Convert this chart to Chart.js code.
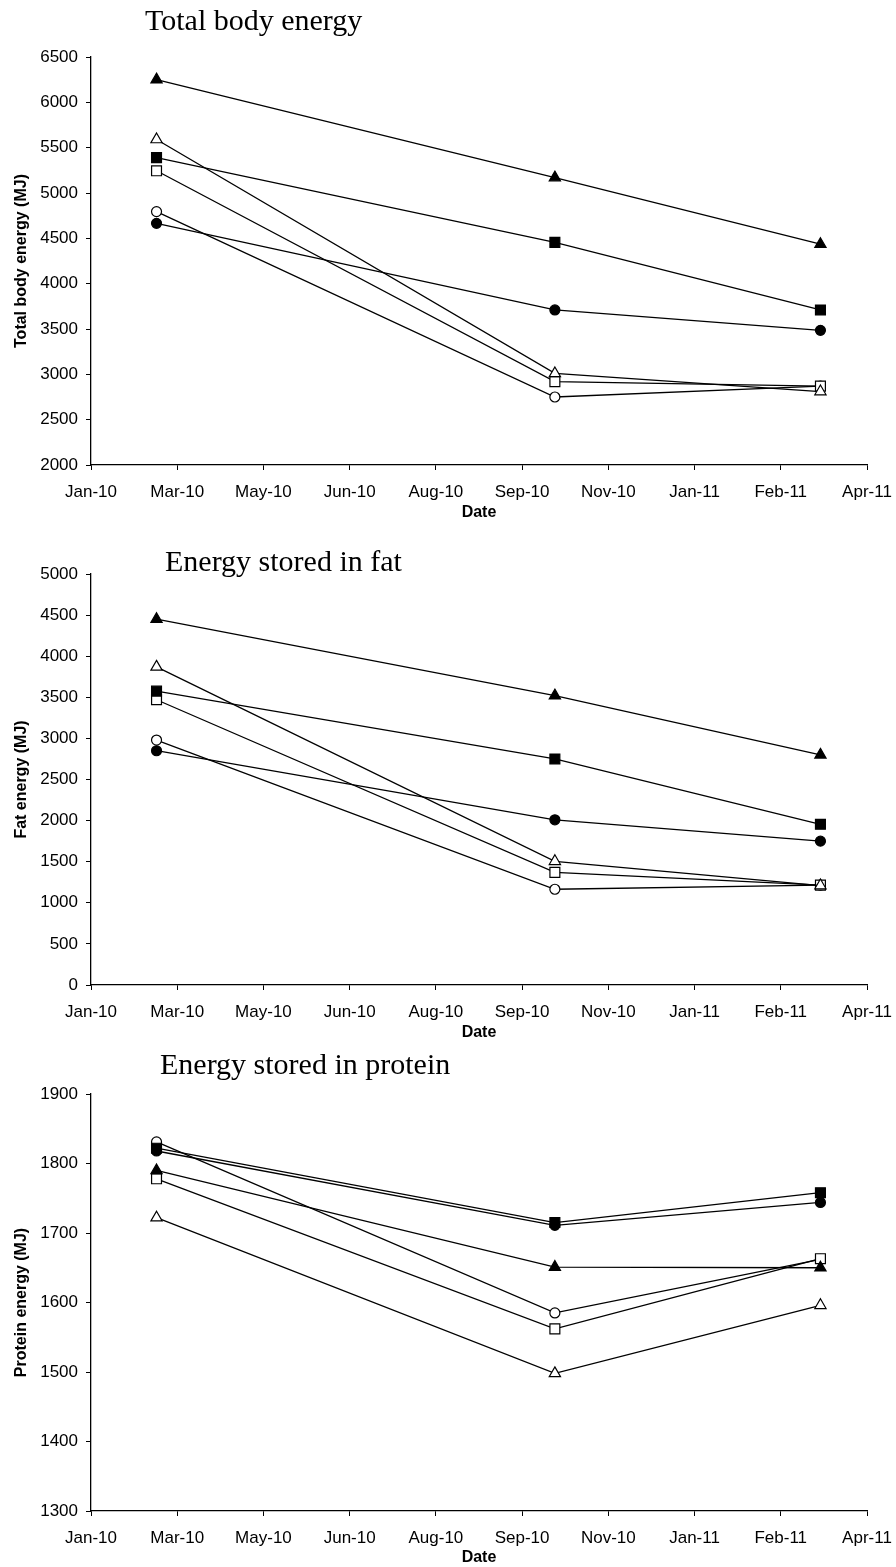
<!DOCTYPE html>
<html>
<head>
<meta charset="utf-8">
<title>Body energy</title>
<script src="https://cdn.jsdelivr.net/npm/chart.js@4/dist/chart.umd.min.js"></script>
<style>
  html, body { margin: 0; padding: 0; background: #ffffff; }
  #wrap { position: relative; width: 896px; height: 1567px; overflow: hidden; }
  canvas { position: absolute; left: 0; display: block; }
</style>
</head>
<body>
<div id="wrap">
  <canvas id="totalChart" width="896" height="525" style="top:0px"></canvas>
  <canvas id="fatChart" width="896" height="525" style="top:520px"></canvas>
  <canvas id="proteinChart" width="896" height="527" style="top:1040px"></canvas>
</div>
<script>
// Sampling dates and date-axis ticks (ticks every 50 days from 22 Jan 2010)
const sampleDates = ['2010-03-01', '2010-10-18', '2011-03-21'];
const dateTickLabels = ['Jan-10', 'Mar-10', 'May-10', 'Jun-10', 'Aug-10',
                        'Sep-10', 'Nov-10', 'Jan-11', 'Feb-11', 'Apr-11'];
const dateAxisStart = 40200;   // serial day of first tick
const dateAxisStep = 50;       // days between ticks

// Total body energy (MJ)
const totalTriFilled = [6250, 5170, 4435];
const totalTriOpen   = [5590, 3010, 2810];
const totalSqFilled  = [5390, 4455, 3710];
const totalSqOpen    = [5245, 2920, 2870];
const totalCirFilled = [4665, 3710, 3485];
const totalCirOpen   = [4795, 2750, 2870];

// Energy stored in fat (MJ)
const fatTriFilled = [4450, 3520, 2800];
const fatTriOpen   = [3870, 1505, 1210];
const fatSqFilled  = [3575, 2750, 1955];
const fatSqOpen    = [3470, 1370, 1215];
const fatCirFilled = [2850, 2010, 1750];
const fatCirOpen   = [2980, 1165, 1215];

// Energy stored in protein (MJ)
const protTriFilled = [1790, 1651, 1650];
const protTriOpen   = [1722, 1498, 1596];
const protSqFilled  = [1822, 1715, 1758];
const protSqOpen    = [1778, 1562, 1663];
const protCirFilled = [1818, 1711, 1744];
const protCirOpen   = [1831, 1585, 1662];

// Serial day number (days since 30 Dec 1899) for an ISO date
function serialDay(iso) {
  const [y, m, d] = iso.split('-').map(Number);
  return (Date.UTC(y, m - 1, d) - Date.UTC(1899, 11, 30)) / 86400000;
}
const sampleDays = sampleDates.map(serialDay);

Chart.defaults.font.family = '"Liberation Sans", Arial, sans-serif';
Chart.defaults.color = '#000000';

// Marker looks for the six series
const markerStyles = [
  { pointStyle: 'triangle', radius: 6.5, fill: '#000000' },
  { pointStyle: 'triangle', radius: 6.5, fill: '#ffffff' },
  { pointStyle: 'rect',     radius: 7,   fill: '#000000' },
  { pointStyle: 'rect',     radius: 7,   fill: '#ffffff' },
  { pointStyle: 'circle',   radius: 5,   fill: '#000000' },
  { pointStyle: 'circle',   radius: 5,   fill: '#ffffff' }
];

function buildDatasets(seriesList) {
  return seriesList.map((values, i) => {
    const m = markerStyles[i];
    return {
      data: values.map((v, k) => ({ x: sampleDays[k], y: v })),
      borderColor: '#000000',
      borderWidth: 1.3,
      tension: 0,
      fill: false,
      pointStyle: m.pointStyle,
      pointRadius: m.radius,
      pointHoverRadius: m.radius,
      pointBackgroundColor: m.fill,
      pointBorderColor: '#000000',
      pointBorderWidth: 1.2
    };
  });
}

// Serif panel heading drawn at a fixed spot of the canvas
const panelTitlePlugin = {
  id: 'panelTitle',
  afterDraw(chart, args, opts) {
    const ctx = chart.ctx;
    ctx.save();
    ctx.font = opts.font;
    ctx.fillStyle = '#000000';
    ctx.textAlign = 'left';
    ctx.textBaseline = 'middle';
    ctx.fillText(opts.text, opts.x, opts.y);
    ctx.restore();
  }
};

function makeChart(canvasId, cfg) {
  const axisFont = { size: 17 };
  const titleFont = { size: 16, weight: 'bold' };
  return new Chart(document.getElementById(canvasId), {
    type: 'line',
    data: { datasets: buildDatasets(cfg.series) },
    plugins: [panelTitlePlugin],
    options: {
      responsive: false,
      animation: false,
      events: [],
      layout: { padding: { top: cfg.padTop, left: 0, right: 29, bottom: 0 } },
      plugins: {
        legend: { display: false },
        tooltip: { enabled: false },
        panelTitle: {
          text: cfg.title,
          x: cfg.titleX,
          y: cfg.titleY,
          font: '30px "Liberation Serif", "Times New Roman", serif'
        }
      },
      scales: {
        x: {
          type: 'linear',
          min: dateAxisStart,
          max: dateAxisStart + dateAxisStep * (dateTickLabels.length - 1),
          afterFit(scale) {
            scale.height = cfg.xAxisHeight;
            scale.paddingLeft = 0;
            scale.paddingRight = 0;
          },
          ticks: {
            stepSize: dateAxisStep,
            autoSkip: false,
            maxRotation: 0,
            padding: 12,
            font: axisFont,
            callback(value) {
              const i = Math.round((value - dateAxisStart) / dateAxisStep);
              return dateTickLabels[i] !== undefined ? dateTickLabels[i] : '';
            }
          },
          grid: {
            drawOnChartArea: false,
            drawTicks: true,
            tickLength: 5,
            color: '#000000',
            lineWidth: 1
          },
          border: { display: true, color: '#000000', width: 1.3 },
          title: {
            display: true,
            text: 'Date',
            font: titleFont,
            padding: { top: 0, bottom: cfg.dateTitlePad }
          }
        },
        y: {
          min: cfg.yMin,
          max: cfg.yMax,
          afterFit(scale) {
            scale.width = 91;
            scale.paddingTop = 0;
            scale.paddingBottom = 0;
          },
          ticks: {
            stepSize: cfg.yStep,
            padding: 8,
            font: axisFont,
            callback(value) { return String(value); }
          },
          grid: {
            drawOnChartArea: false,
            drawTicks: true,
            tickLength: 5,
            color: '#000000',
            lineWidth: 1
          },
          border: { display: true, color: '#000000', width: 1.3 },
          title: {
            display: true,
            text: cfg.yTitle,
            font: titleFont,
            padding: { top: 12, bottom: 0 }
          }
        }
      }
    }
  });
}

makeChart('totalChart', {
  series: [totalTriFilled, totalTriOpen, totalSqFilled, totalSqOpen, totalCirFilled, totalCirOpen],
  yMin: 2000, yMax: 6500, yStep: 500,
  yTitle: 'Total body energy (MJ)',
  title: 'Total body energy', titleX: 145, titleY: 22,
  padTop: 57, xAxisHeight: 60, dateTitlePad: 3
});

makeChart('fatChart', {
  series: [fatTriFilled, fatTriOpen, fatSqFilled, fatSqOpen, fatCirFilled, fatCirOpen],
  yMin: 0, yMax: 5000, yStep: 500,
  yTitle: 'Fat energy (MJ)',
  title: 'Energy stored in fat', titleX: 165, titleY: 43,
  padTop: 54, xAxisHeight: 60, dateTitlePad: 3
});

makeChart('proteinChart', {
  series: [protTriFilled, protTriOpen, protSqFilled, protSqOpen, protCirFilled, protCirOpen],
  yMin: 1300, yMax: 1900, yStep: 100,
  yTitle: 'Protein energy (MJ)',
  title: 'Energy stored in protein', titleX: 160, titleY: 26,
  padTop: 54, xAxisHeight: 56, dateTitlePad: 0
});
</script>
</body>
</html>
